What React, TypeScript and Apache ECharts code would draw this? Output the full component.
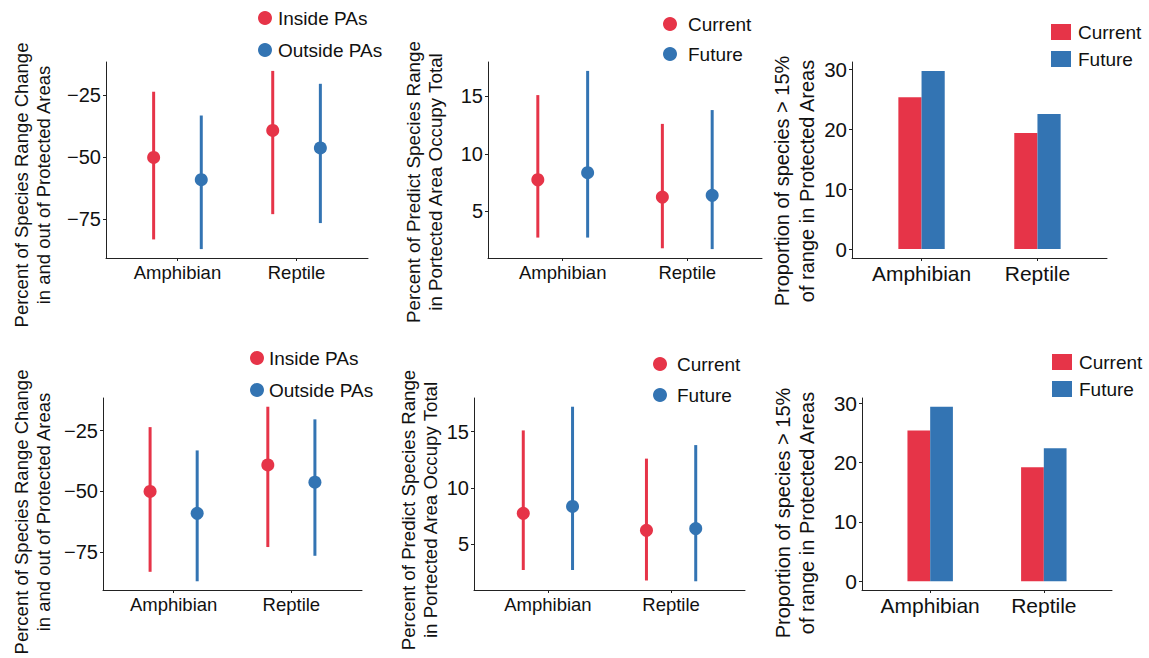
import { useEffect, useRef } from 'react';
import * as echarts from 'echarts';

// ---------- data ----------
const categories = ['Amphibian', 'Reptile'];

// Range change inside / outside protected areas (panels 1 & 4)
const insideMean = [-50.1, -39.2];
const insideLow = [-83.2, -73.0];
const insideHigh = [-23.6, -15.2];
const outsideMean = [-59.1, -46.3];
const outsideLow = [-87.1, -76.6];
const outsideHigh = [-33.2, -20.4];

// Percent of predicted range in PAs (panels 2 & 5)
const currentMean = [7.75, 6.25];
const currentLow = [2.73, 1.8];
const currentHigh = [15.1, 12.6];
const futureMean = [8.36, 6.4];
const futureLow = [2.73, 1.73];
const futureHigh = [17.2, 13.8];

// Proportion of species > 15% of range in PAs (panels 3 & 6)
const barCurrentTop = [25.3, 19.35];
const barFutureTop = [29.7, 22.5];
const barCurrentBottom = [25.4, 19.2];
const barFutureBottom = [29.4, 22.4];

const ticksChange = [-75, -50, -25];
const ticksPercent = [5, 10, 15];
const ticksProportion = [0, 10, 20, 30];

// ---------- style ----------
const RED = '#E63448';
const BLUE = '#3374B3';
const FONT = '"Liberation Sans", Arial, Helvetica, sans-serif';
const INK = '#111';

function expand(lo: number, hi: number): [number, number] {
  const r = hi - lo;
  return [lo - r * 0.05, hi + r * 0.05];
}

const changeRange = expand(
  Math.min(...insideLow, ...outsideLow),
  Math.max(...insideHigh, ...outsideHigh)
);
const percentRange = expand(
  Math.min(...currentLow, ...futureLow),
  Math.max(...currentHigh, ...futureHigh)
);
const propTopRange = expand(0, Math.max(...barCurrentTop, ...barFutureTop));
const propBottomRange = expand(0, Math.max(...barCurrentBottom, ...barFutureBottom));

const grids = [
  { left: 106, top: 62, width: 262, height: 196 },
  { left: 488, top: 62, width: 274, height: 196 },
  { left: 852, top: 62, width: 255, height: 196 },
  { left: 103, top: 398, width: 259, height: 192 },
  { left: 474, top: 398, width: 271, height: 192 },
  { left: 862, top: 398, width: 250, height: 192 },
];

const xFont = [18.5, 18.5, 21, 18.5, 18.5, 21];
const yFont = [20, 20, 20.5, 20, 20, 21];
const yRanges = [changeRange, percentRange, propTopRange, changeRange, percentRange, propBottomRange];
const yTicks = [ticksChange, ticksPercent, ticksProportion, ticksChange, ticksPercent, ticksProportion];

function rangeData(mean: number[], low: number[], high: number[], offset: number) {
  return categories.map((_, i) => [i + 1 + offset, mean[i], low[i], high[i]]);
}
function barData(vals: number[], offset: number) {
  return categories.map((_, i) => [i + 1 + offset, vals[i]]);
}

function pointRangeSeries(name: string, color: string, idx: number, data: number[][]) {
  return {
    type: 'custom',
    name,
    xAxisIndex: idx,
    yAxisIndex: idx,
    encode: { x: 0, y: [1, 2, 3] },
    data,
    renderItem: (params: any, api: any) => {
      const x = api.value(0);
      const p = api.coord([x, api.value(1)]);
      const lo = api.coord([x, api.value(2)]);
      const hi = api.coord([x, api.value(3)]);
      return {
        type: 'group',
        children: [
          {
            type: 'line',
            shape: { x1: p[0], y1: lo[1], x2: p[0], y2: hi[1] },
            style: { stroke: color, lineWidth: 3 },
          },
          {
            type: 'circle',
            shape: { cx: p[0], cy: p[1], r: 6.5 },
            style: { fill: color },
          },
        ],
      };
    },
  };
}

function barSeries(name: string, color: string, idx: number, data: number[][]) {
  return {
    type: 'custom',
    name,
    xAxisIndex: idx,
    yAxisIndex: idx,
    encode: { x: 0, y: 1 },
    data,
    renderItem: (params: any, api: any) => {
      const x = api.value(0);
      const a = api.coord([x - 0.1, api.value(1)]);
      const b = api.coord([x + 0.1, 0]);
      return {
        type: 'rect',
        shape: { x: a[0], y: a[1], width: b[0] - a[0], height: b[1] - a[1] },
        style: { fill: color },
      };
    },
  };
}

function yTitle(x1: number, x2: number, y: number, l1: string, l2: string, size: number) {
  return [
    { x: x1, t: l1 },
    { x: x2, t: l2 },
  ].map((o) => ({
    type: 'text',
    x: o.x,
    y,
    rotation: Math.PI / 2,
    style: {
      text: o.t,
      fontSize: size,
      fontFamily: FONT,
      fill: INK,
      align: 'center',
      verticalAlign: 'middle',
    },
  }));
}

function dotLegend(cx: number, ys: number[], tx: number, labels: string[]) {
  const colors = [RED, BLUE];
  const out: any[] = [];
  ys.forEach((y, i) => {
    out.push({ type: 'circle', shape: { cx, cy: y, r: 7 }, style: { fill: colors[i] } });
    out.push({
      type: 'text',
      x: tx,
      y,
      style: { text: labels[i], fontSize: 19, fontFamily: FONT, fill: INK, align: 'left', verticalAlign: 'middle' },
    });
  });
  return out;
}

function rectLegend(x: number, ys: number[], tx: number, labels: string[]) {
  const colors = [RED, BLUE];
  const out: any[] = [];
  ys.forEach((y, i) => {
    out.push({ type: 'rect', shape: { x, y: y - 8, width: 20, height: 16 }, style: { fill: colors[i] } });
    out.push({
      type: 'text',
      x: tx,
      y,
      style: { text: labels[i], fontSize: 19, fontFamily: FONT, fill: INK, align: 'left', verticalAlign: 'middle' },
    });
  });
  return out;
}

const option: any = {
  animation: false,
  backgroundColor: '#fff',
  grid: grids.map((g) => ({ ...g, containLabel: false, outerBoundsMode: 'none' })),
  xAxis: grids.map((_, i) => ({
    type: 'value',
    gridIndex: i,
    min: 0.4,
    max: 2.6,
    splitLine: { show: false },
    axisLine: { show: true, onZero: false, lineStyle: { color: '#222', width: 1 } },
    axisTick: { show: true, customValues: [1, 2], length: 3, lineStyle: { color: '#222' } },
    axisLabel: {
      customValues: [1, 2],
      formatter: (v: number) => categories[Math.round(v) - 1] ?? '',
      fontSize: xFont[i],
      fontFamily: FONT,
      color: INK,
      margin: 5,
    },
  })),
  yAxis: grids.map((_, i) => ({
    type: 'value',
    gridIndex: i,
    min: yRanges[i][0],
    max: yRanges[i][1],
    splitLine: { show: false },
    axisLine: { show: true, onZero: false, lineStyle: { color: '#222', width: 1 } },
    axisTick: { show: true, customValues: yTicks[i], length: 3, lineStyle: { color: '#222' } },
    axisLabel: {
      customValues: yTicks[i],
      formatter: (v: number) => String(Math.round(v)).replace('-', '\u2212'),
      fontSize: yFont[i],
      fontFamily: FONT,
      color: INK,
      margin: 5,
    },
  })),
  series: [
    pointRangeSeries('Inside PAs', RED, 0, rangeData(insideMean, insideLow, insideHigh, -0.2)),
    pointRangeSeries('Outside PAs', BLUE, 0, rangeData(outsideMean, outsideLow, outsideHigh, 0.2)),
    pointRangeSeries('Current', RED, 1, rangeData(currentMean, currentLow, currentHigh, -0.2)),
    pointRangeSeries('Future', BLUE, 1, rangeData(futureMean, futureLow, futureHigh, 0.2)),
    barSeries('Current', RED, 2, barData(barCurrentTop, -0.1)),
    barSeries('Future', BLUE, 2, barData(barFutureTop, 0.1)),
    pointRangeSeries('Inside PAs', RED, 3, rangeData(insideMean, insideLow, insideHigh, -0.2)),
    pointRangeSeries('Outside PAs', BLUE, 3, rangeData(outsideMean, outsideLow, outsideHigh, 0.2)),
    pointRangeSeries('Current', RED, 4, rangeData(currentMean, currentLow, currentHigh, -0.2)),
    pointRangeSeries('Future', BLUE, 4, rangeData(futureMean, futureLow, futureHigh, 0.2)),
    barSeries('Current', RED, 5, barData(barCurrentBottom, -0.1)),
    barSeries('Future', BLUE, 5, barData(barFutureBottom, 0.1)),
  ],
  graphic: {
    elements: [
      ...yTitle(21, 43, 185, 'Percent of Species Range Change', 'in and out of Protected Areas', 18.5),
      ...yTitle(413, 435, 182, 'Percent of Predict Species Range', 'in Portected Area Occupy Total', 18.8),
      ...yTitle(782, 807, 181, 'Proportion of species > 15%', 'of range in Protected Areas', 20),
      ...yTitle(21, 43, 512, 'Percent of Species Range Change', 'in and out of Protected Areas', 18.5),
      ...yTitle(408, 430, 510, 'Percent of Predict Species Range', 'in Portected Area Occupy Total', 18.7),
      ...yTitle(783, 807, 513, 'Proportion of species > 15%', 'of range in Protected Areas', 20),
      ...dotLegend(265, [18, 50], 278, ['Inside PAs', 'Outside PAs']),
      ...dotLegend(670, [24, 54], 688, ['Current', 'Future']),
      ...rectLegend(1051, [32, 59], 1078, ['Current', 'Future']),
      ...dotLegend(257, [358, 390], 269, ['Inside PAs', 'Outside PAs']),
      ...dotLegend(660, [364, 395], 677, ['Current', 'Future']),
      ...rectLegend(1052, [362, 389], 1079, ['Current', 'Future']),
    ],
  },
};

export default function App() {
  const ref = useRef<HTMLDivElement>(null);
  useEffect(() => {
    const chart = echarts.init(ref.current!, null, { renderer: 'svg', width: 1149, height: 658 });
    chart.setOption(option);
    return () => chart.dispose();
  }, []);
  return (
    <div
      ref={ref}
      style={{ position: 'absolute', left: 0, top: 0, width: 1149, height: 658, background: '#fff' }}
    />
  );
}
